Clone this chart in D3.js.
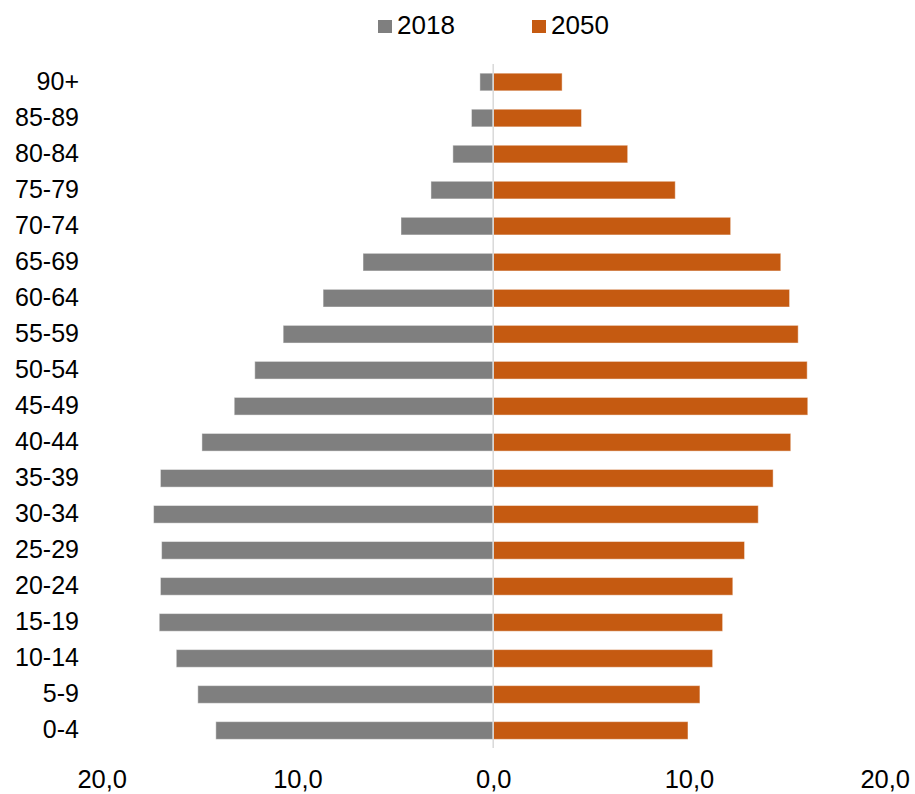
<!DOCTYPE html>
<html>
<head>
<meta charset="utf-8">
<script src="https://cdn.jsdelivr.net/npm/d3@7"></script>
<style>
  html, body { margin: 0; padding: 0; background: #fff; }
  svg { display: block; font-family: "Liberation Sans", Arial, sans-serif; }
</style>
</head>
<body>
<svg id="chart" width="915" height="794"></svg>
<script>
const categories = ["90+","85-89","80-84","75-79","70-74","65-69","60-64","55-59","50-54","45-49","40-44","35-39","30-34","25-29","20-24","15-19","10-14","5-9","0-4"];
const values2018 = [0.68,1.11,2.06,3.18,4.71,6.65,8.69,10.73,12.18,13.23,14.88,17.0,17.35,16.94,17.0,17.06,16.19,15.09,14.17];
const values2050 = [3.52,4.51,6.87,9.30,12.13,14.69,15.14,15.58,16.04,16.07,15.2,14.3,13.54,12.84,12.24,11.72,11.21,10.56,9.95];
const seriesNames = ["2018","2050"];
const tickValues = [-20,-10,0,10,20];
const tickLabels = ["20,0","10,0","0,0","10,0","20,0"];

const colors = {"2018": "#7f7f7f", "2050": "#c55a11"};

const svg = d3.select("#chart");

const x = d3.scaleLinear().domain([-20, 20]).range([101.7, 884.7]);
const y = d3.scaleBand().domain(categories).range([64, 748.5]).paddingInner(0.51).paddingOuter(0.255);

// bars 2018 (left)
svg.append("g").selectAll("rect")
  .data(categories.map((c, i) => ({c, v: values2018[i]})))
  .join("rect")
  .attr("x", d => x(-d.v))
  .attr("y", d => y(d.c))
  .attr("width", d => x(0) - x(-d.v))
  .attr("height", y.bandwidth())
  .attr("fill", colors["2018"])
  .attr("stroke", "#fff").attr("stroke-opacity", 0.45).attr("stroke-width", 1);

// bars 2050 (right)
svg.append("g").selectAll("rect")
  .data(categories.map((c, i) => ({c, v: values2050[i]})))
  .join("rect")
  .attr("x", x(0))
  .attr("y", d => y(d.c))
  .attr("width", d => x(d.v) - x(0))
  .attr("height", y.bandwidth())
  .attr("fill", colors["2050"])
  .attr("stroke", "#fff").attr("stroke-opacity", 0.45).attr("stroke-width", 1);

// zero line
svg.append("line")
  .attr("x1", x(0)).attr("x2", x(0))
  .attr("y1", 64).attr("y2", 748)
  .attr("stroke", "#d9d9d9").attr("stroke-width", 1.5);

// y labels
const yAxis = d3.axisLeft(y).tickSize(0).tickPadding(0);
const gy = svg.append("g").attr("transform", "translate(79,0)").call(yAxis);
gy.select(".domain").remove();
gy.selectAll("text")
  .attr("font-size", 25)
  .attr("font-family", "Liberation Sans, Arial, sans-serif")
  .attr("fill", "#000");

// x labels
const xAxis = d3.axisBottom(x).tickValues(tickValues).tickSize(0).tickPadding(0)
  .tickFormat((d, i) => tickLabels[i]);
const gx = svg.append("g").attr("transform", "translate(0,770)").call(xAxis);
gx.select(".domain").remove();
gx.selectAll("text")
  .attr("font-size", 25.5)
  .attr("font-family", "Liberation Sans, Arial, sans-serif")
  .attr("fill", "#000")
  .attr("dy", "0.71em");

// legend
const legendX = [378, 532];
const lg = svg.append("g");
seriesNames.forEach((s, i) => {
  lg.append("rect").attr("x", legendX[i]).attr("y", 20).attr("width", 14).attr("height", 13).attr("fill", colors[s]);
  lg.append("text").attr("x", legendX[i] + 19).attr("y", 34.3)
    .attr("font-size", 26).attr("fill", "#000").text(s);
});
</script>
</body>
</html>
